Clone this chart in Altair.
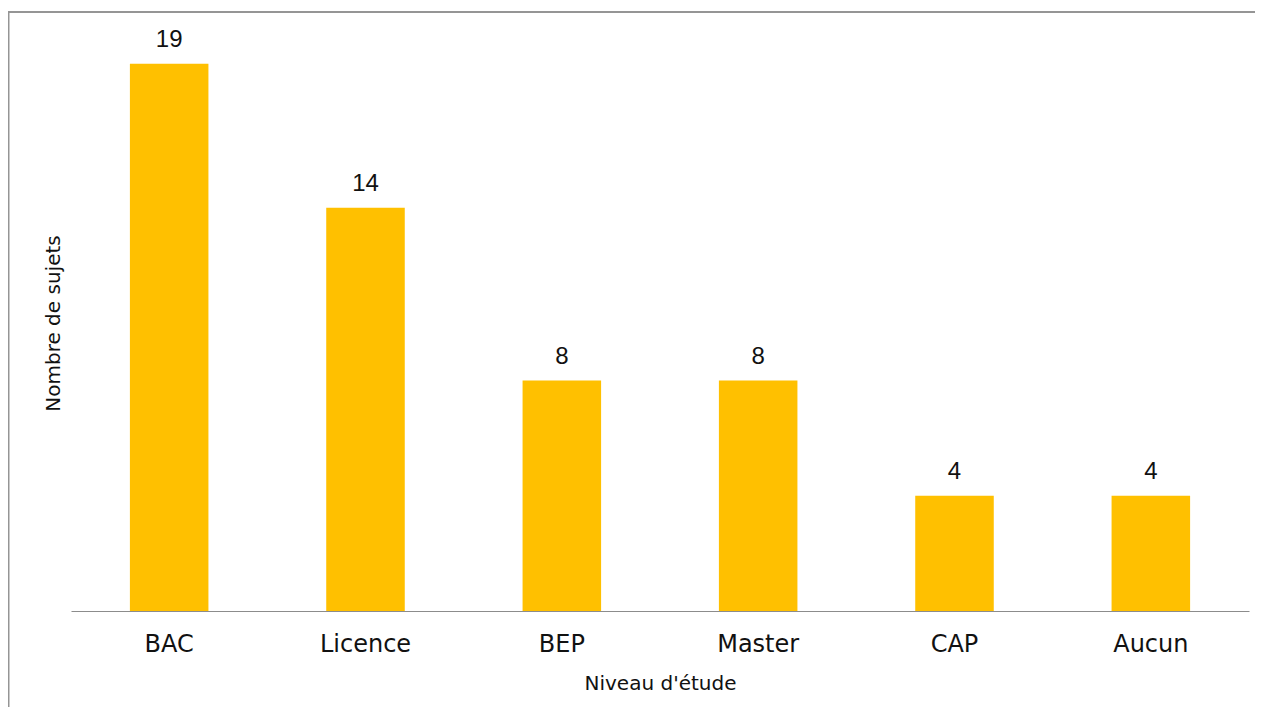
import altair as alt
import pandas as pd

niveaux = ["BAC", "Licence", "BEP", "Master", "CAP", "Aucun"]
sujets = [19, 14, 8, 8, 4, 4]

df = pd.DataFrame({"niveau": niveaux, "sujets": sujets})

FONT = "Liberation Sans"
AXFONT = "DejaVu Sans"
W, H = 1178, 576

x_enc = alt.X(
    "niveau:N",
    sort=niveaux,
    scale=alt.Scale(paddingInner=0, paddingOuter=0),
    axis=alt.Axis(
        title="Niveau d'étude",
        labelAngle=0,
        labelFont=AXFONT,
        labelFontSize=24,
        labelColor="#111111",
        labelPadding=21,
        ticks=False,
        tickSize=0,
        domainColor="#8c8c8c",
        domainWidth=1.2,
        grid=False,
        titleFont=AXFONT,
        titleFontSize=20,
        titleFontWeight="normal",
        titleColor="#111111",
        titlePadding=17,
    ),
)
y_enc = alt.Y(
    "sujets:Q",
    scale=alt.Scale(domain=[0, 20], nice=False),
    axis=alt.Axis(
        title="Nombre de sujets",
        labels=False,
        ticks=False,
        tickSize=0,
        domain=False,
        grid=False,
        titleFont=AXFONT,
        titleFontSize=20,
        titleFontWeight="normal",
        titleColor="#111111",
        titlePadding=8,
    ),
)

bars = alt.Chart(df).mark_bar(color="#FFC000", width=alt.RelativeBandSize(0.4)).encode(
    x=x_enc, y=y_enc
)

labels = alt.Chart(df).mark_text(
    font=FONT, fontSize=24, color="#111111", baseline="alphabetic", dy=-17
).encode(x=alt.X("niveau:N", sort=niveaux), y="sujets:Q", text="sujets:Q")

frame = alt.Chart(pd.DataFrame({"a": [0]})).mark_rect(
    fill=None, stroke="#959595", strokeWidth=2, clip=False
).encode(
    x=alt.value(-62.5), x2=alt.value(1400), y=alt.value(-23), y2=alt.value(800)
)

chart = (
    alt.layer(frame, bars, labels)
    .properties(
        width=W,
        height=H,
        padding={"left": 63, "top": 27, "right": 6, "bottom": 96},
        autosize=alt.AutoSizeParams(type="none"),
        background="white",
    )
    .configure_view(stroke=None)
)

chart.save("out.html", embed_options={"renderer": "svg", "actions": False})
